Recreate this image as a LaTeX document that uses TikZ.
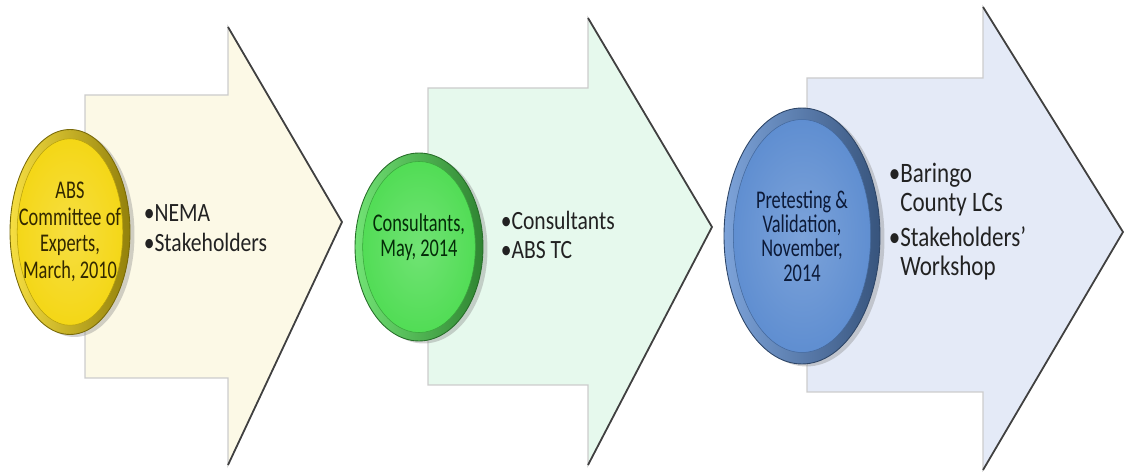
\documentclass[tikz,border=0pt]{standalone}
\usepackage{fontspec}
\setmainfont{Carlito}[FakeStretch=0.82]
\newfontfamily\stagefont{Carlito}[FakeStretch=0.72]
\usetikzlibrary{positioning}
\usetikzlibrary{calc}
\usetikzlibrary{shapes}
\usetikzlibrary{shadows}

\definecolor{cream}{RGB}{252,249,230}
\definecolor{mint}{RGB}{230,249,237}
\definecolor{lavender}{RGB}{228,234,247}
\definecolor{yelface}{RGB}{244,214,18}
\definecolor{grnface}{RGB}{78,220,82}
\definecolor{bluface}{RGB}{92,140,208}
\definecolor{yeltext}{RGB}{50,40,0}
\definecolor{grntext}{RGB}{4,44,8}
\definecolor{blutext}{RGB}{12,26,56}
\definecolor{bullettext}{RGB}{34,34,34}

\tikzset{
stage/.style 2 args={
  ellipse,
  inner xsep=-0.25cm,
  inner ysep=0pt,
  align=center,
  text=#2,
  font=\stagefont\fontsize{14.5}{15.2}\selectfont,
  draw=#1!50!black,
  line width=0.5pt,
  left color=#1!80!white,
  right color=#1!60!black,
  drop shadow={opacity=0.35,shadow xshift=0.9mm,shadow yshift=-0.5mm},
  path picture={
    \shade[inner color=#1!80!white,outer color=#1,draw=#1!75!black,line width=0.3pt]
      let \p1=(path picture bounding box.north east),
          \p2=(path picture bounding box.center) in
      (\p2) ellipse ({0.88*(\x1-\x2)} and {0.91*(\y1-\y2)});
  }
  },
bullets/.style={
  align=left,
  inner sep=0pt,
  text=bullettext,
  font=\fontsize{15}{17}\selectfont
  },
arrowbox/.style={
  draw=gray!40,
  line width=0.8pt,
  line join=miter
  },
headedge/.style={
  draw=black!75,
  line width=1pt
  }
}

\begin{document}
\begin{tikzpicture}[x=0.02cm,y=-0.02cm]
\useasboundingbox (0,0) rectangle (1126,472);

% process arrows
\filldraw[arrowbox,fill=cream] (85,95) -- (228,95) -- (228,27) coordinate (h1t)
  -- (342,222) coordinate (h1p) -- (228,465) coordinate (h1b) -- (228,378) -- (85,378) -- cycle;
\draw[headedge] (h1t) -- (h1p) -- (h1b);

\filldraw[arrowbox,fill=mint] (428,88) -- (588,88) -- (588,18) coordinate (h2t)
  -- (712,227) coordinate (h2p) -- (588,465) coordinate (h2b) -- (588,385) -- (428,385) -- cycle;
\draw[headedge] (h2t) -- (h2p) -- (h2b);

\filldraw[arrowbox,fill=lavender] (807,78) -- (983,78) -- (983,7) coordinate (h3t)
  -- (1123,232) coordinate (h3p) -- (983,470) coordinate (h3b) -- (983,392) -- (807,392) -- cycle;
\draw[headedge] (h3t) -- (h3p) -- (h3b);

% stages
\node[stage={yelface}{yeltext},minimum width=2.4cm,minimum height=4.1cm] (s1) at (70,232)
  {ABS\\Committee of\\Experts,\\March, 2010};
\node[stage={grnface}{grntext},minimum width=2.56cm,minimum height=3.76cm,
  font=\stagefont\fontsize{14.5}{14.5}\selectfont] (s2) at (419,247)
  {Consultants,\\May, 2014\\[-0.03cm]};
\node[stage={bluface}{blutext},minimum width=3.12cm,minimum height=5.12cm,
  font=\stagefont\fontsize{14.5}{13.8}\selectfont] (s3) at (802,236)
  {Pretesting \&\\Validation,\\November,\\2014};

% who took part
\node[bullets] (b1) [right=0.26cm of s1, yshift=0.08cm] {•NEMA\\•Stakeholders};
\node[bullets] (b2) [right=0.34cm of s2, yshift=0.24cm] {•Consultants\\•ABS TC};
\node[bullets,font=\fontsize{16}{16.5}\selectfont] (b3) [right=0.16cm of s3, yshift=0.28cm]
  {•Baringo\\\hphantom{•}County LCs\\[3.5pt]•Stakeholders’\\\hphantom{•}Workshop};
\end{tikzpicture}
\end{document}
